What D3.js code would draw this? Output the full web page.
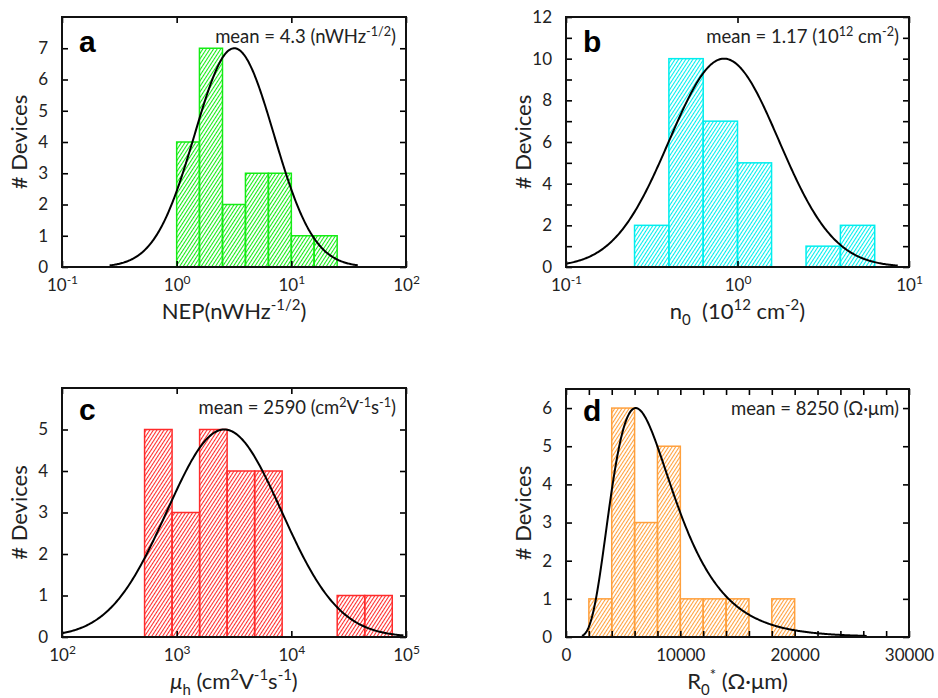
<!DOCTYPE html>
<html>
<head>
<meta charset="utf-8">
<script src="https://cdn.jsdelivr.net/npm/d3@7/dist/d3.min.js"></script>
<style>
  body { margin: 0; background: #fff; }
  svg { display: block; }
</style>
</head>
<body>
<svg id="chart"></svg>
<script>
// histogram data
const panelLetters = ["a", "b", "c", "d"];
const binEdgesA = [1.00, 1.58, 2.51, 3.98, 6.31, 10.0, 15.8, 25.1];
const countsA = [4, 7, 2, 3, 3, 1, 1];
const binEdgesB = [0.251, 0.398, 0.631, 1.00, 1.58, 2.51, 3.98, 6.31];
const countsB = [2, 10, 7, 5, 0, 1, 2];
const binEdgesC = [525, 912, 1585, 2754, 4786, 8318, 14454, 25119, 43652, 75858];
const countsC = [5, 3, 5, 4, 4, 0, 0, 1, 1];
const binEdgesD = [2000, 4000, 6000, 8000, 10000, 12000, 14000, 16000, 18000, 20000];
const countsD = [1, 6, 3, 5, 1, 1, 1, 0, 1];

// log-normal fit curves: mode, width (ln units), peak height, drawn range
const fitModes = [3.18, 0.835, 2600, 6100];
const fitWidths = [0.795, 0.737, 1.15, 0.447];
const fitPeaks = [7, 10, 5, 6];
const fitRanges = [[0.26, 38], [0.1, 8.6], [100, 95000], [1400, 26300]];

// axes
const xDomains = [[0.1, 100], [0.1, 10], [100, 100000], [0, 30000]];
const yMaxes = [8, 12, 6, 6.5];
const yTopTicks = [7, 12, 5, 6];
const xLabelTicksD = [0, 10000, 20000, 30000];

const colors = ["#14ec14", "#00eeee", "#ff2b2b", "#ffa03c"];

const meanLabels = [
  [{t: "mean = 4.3 (nWHz"}, {t: "-1/2", sup: true}, {t: ")"}],
  [{t: "mean = 1.17 (10"}, {t: "12", sup: true}, {t: " cm"}, {t: "-2", sup: true}, {t: ")"}],
  [{t: "mean = 2590 (cm"}, {t: "2", sup: true}, {t: "V"}, {t: "-1", sup: true}, {t: "s"}, {t: "-1", sup: true}, {t: ")"}],
  [{t: "mean = 8250 (\u03A9\u00B7\u03BCm)"}]
];
const xTitles = [
  [{t: "NEP(nWHz"}, {t: "-1/2", sup: true}, {t: ")"}],
  [{t: "n"}, {t: "0", sub: true}, {t: "\u00A0 (10"}, {t: "12", sup: true}, {t: " cm"}, {t: "-2", sup: true}, {t: ")"}],
  [{t: "\u03BC", italic: true}, {t: "h", sub: true}, {t: " (cm"}, {t: "2", sup: true}, {t: "V"}, {t: "-1", sup: true}, {t: "s"}, {t: "-1", sup: true}, {t: ")"}],
  [{t: "R"}, {t: "0", sub: true}, {t: "*", sup: true}, {t: " (\u03A9\u00B7\u03BCm)"}]
];
const yTitle = "# Devices";

const width = 938, height = 698;
const font = "Lato, 'Open Sans', sans-serif";

// plot boxes [left, top, w, h]
const boxes = [[62, 17, 344, 250], [566, 17, 343, 250], [62, 388, 344, 249], [566, 389, 343, 248]];

const svg = d3.select("#chart").attr("width", width).attr("height", height)
  .attr("font-family", font);

const defs = svg.append("defs");
colors.forEach(function (c, i) {
  const p = defs.append("pattern")
    .attr("id", "hatch" + i)
    .attr("patternUnits", "userSpaceOnUse")
    .attr("width", 3).attr("height", 3)
    .attr("patternTransform", "rotate(33)");
  p.append("line")
    .attr("x1", 0.5).attr("y1", 0).attr("x2", 0.5).attr("y2", 3)
    .attr("stroke", c).attr("stroke-width", 1.1);
});

function richText(sel, parts, size) {
  let shift = 0;
  parts.forEach(function (p) {
    const target = p.sup ? -0.4 * size : p.sub ? 0.28 * size : 0;
    const ts = sel.append("tspan").attr("dy", target - shift).text(p.t);
    if (p.sup || p.sub) ts.attr("font-size", size * 0.68);
    if (p.italic) ts.attr("font-style", "italic");
    shift = target;
  });
}

function logLabel(g) {
  g.selectAll(".tick text").each(function (d) {
    const t = d3.select(this);
    t.text(null);
    t.append("tspan").text("10");
    t.append("tspan").attr("dy", -7).attr("font-size", 12)
      .text(String(Math.round(Math.log10(d))));
  });
}

const panels = [
  {edges: binEdgesA, counts: countsA},
  {edges: binEdgesB, counts: countsB},
  {edges: binEdgesC, counts: countsC},
  {edges: binEdgesD, counts: countsD}
];

panels.forEach(function (panel, i) {
  const [left, top, w, h] = boxes[i];
  const isLog = i < 3;
  const g = svg.append("g").attr("transform", `translate(${left},${top})`);

  const x = isLog ? d3.scaleLog().domain(xDomains[i]).range([0, w])
                  : d3.scaleLinear().domain(xDomains[i]).range([0, w]);
  const y = d3.scaleLinear().domain([0, yMaxes[i]]).range([h, 0]);

  // bars
  const bins = panel.counts.map(function (c, k) {
    return {x0: panel.edges[k], x1: panel.edges[k + 1], n: c};
  }).filter(function (b) { return b.n > 0 });

  g.append("g").selectAll("rect")
    .data(bins)
    .enter().append("rect")
      .attr("x", function (b) { return x(b.x0) })
      .attr("y", function (b) { return y(b.n) })
      .attr("width", function (b) { return x(b.x1) - x(b.x0) })
      .attr("height", function (b) { return y(0) - y(b.n) })
      .attr("fill", "url(#hatch" + i + ")")
      .attr("stroke", colors[i])
      .attr("stroke-width", 1.5);

  // fit curve
  const [r0, r1] = fitRanges[i];
  const pts = d3.range(0, 301).map(function (k) {
    const xv = isLog ? Math.exp(Math.log(r0) + (Math.log(r1) - Math.log(r0)) * k / 300)
                     : r0 + (r1 - r0) * k / 300;
    const u = Math.log(xv / fitModes[i]);
    return [xv, fitPeaks[i] * Math.exp(-u * u / (2 * fitWidths[i] * fitWidths[i]))];
  });
  g.append("path")
    .datum(pts)
    .attr("d", d3.line().x(function (d) { return x(d[0]) }).y(function (d) { return y(d[1]) }))
    .attr("fill", "none")
    .attr("stroke", "#000")
    .attr("stroke-width", 2);

  // axes, ticks pointing inward
  let xt;
  if (isLog) {
    xt = d3.range(Math.log10(xDomains[i][0]), Math.log10(xDomains[i][1]) + 1).map(function (e) { return Math.pow(10, e) });
  } else {
    xt = d3.range(0, 30001, 2000);
  }
  const yt = d3.range(0, yTopTicks[i] + 1);
  const yfmt = i === 1 ? function (d) { return d % 2 === 0 ? d : "" } : function (d) { return d };

  const xb = g.append("g").attr("transform", `translate(0,${h})`)
    .call(d3.axisBottom(x).tickValues(xt).tickSizeInner(-6).tickSizeOuter(0).tickPadding(12)
      .tickFormat(isLog ? function (d) { return d } : function (d) { return xLabelTicksD.indexOf(d) > -1 ? d : "" }));
  if (isLog) xb.call(logLabel);
  g.append("g")
    .call(d3.axisTop(x).tickValues(xt).tickSizeInner(-6).tickSizeOuter(0).tickFormat(""));
  g.append("g")
    .call(d3.axisLeft(y).tickValues(yt).tickSizeInner(-6).tickSizeOuter(0).tickPadding(14).tickFormat(yfmt));
  g.append("g").attr("transform", `translate(${w},0)`)
    .call(d3.axisRight(y).tickValues(yt).tickSizeInner(-6).tickSizeOuter(0).tickFormat(""));

  g.selectAll(".domain").remove();
  g.selectAll(".tick line").attr("stroke", "#000").attr("stroke-width", 1.6);
  g.selectAll(".tick text").attr("font-family", font).attr("font-size", 17).attr("fill", "#222");

  // frame
  g.append("rect")
    .attr("width", w).attr("height", h)
    .attr("fill", "none").attr("stroke", "#111").attr("stroke-width", 2);

  // panel letter
  g.append("text")
    .attr("x", 17).attr("y", i < 2 ? 35 : 32)
    .attr("font-family", "'Liberation Sans', Arial, sans-serif")
    .attr("font-weight", "bold").attr("font-size", 30)
    .text(panelLetters[i]);

  // mean annotation
  const mt = g.append("text")
    .attr("x", w - 10).attr("y", 26)
    .attr("text-anchor", "end")
    .attr("font-size", 18.5).attr("fill", "#222");
  richText(mt, meanLabels[i], 18.5);

  // axis titles
  const xtT = g.append("text")
    .attr("x", w / 2).attr("y", h + 52)
    .attr("text-anchor", "middle")
    .attr("font-size", 22).attr("fill", "#222");
  richText(xtT, xTitles[i], 22);

  g.append("text")
    .attr("transform", `translate(-35,${h / 2}) rotate(-90)`)
    .attr("text-anchor", "middle")
    .attr("font-size", 22).attr("fill", "#222")
    .text(yTitle);
});
</script>
</body>
</html>
